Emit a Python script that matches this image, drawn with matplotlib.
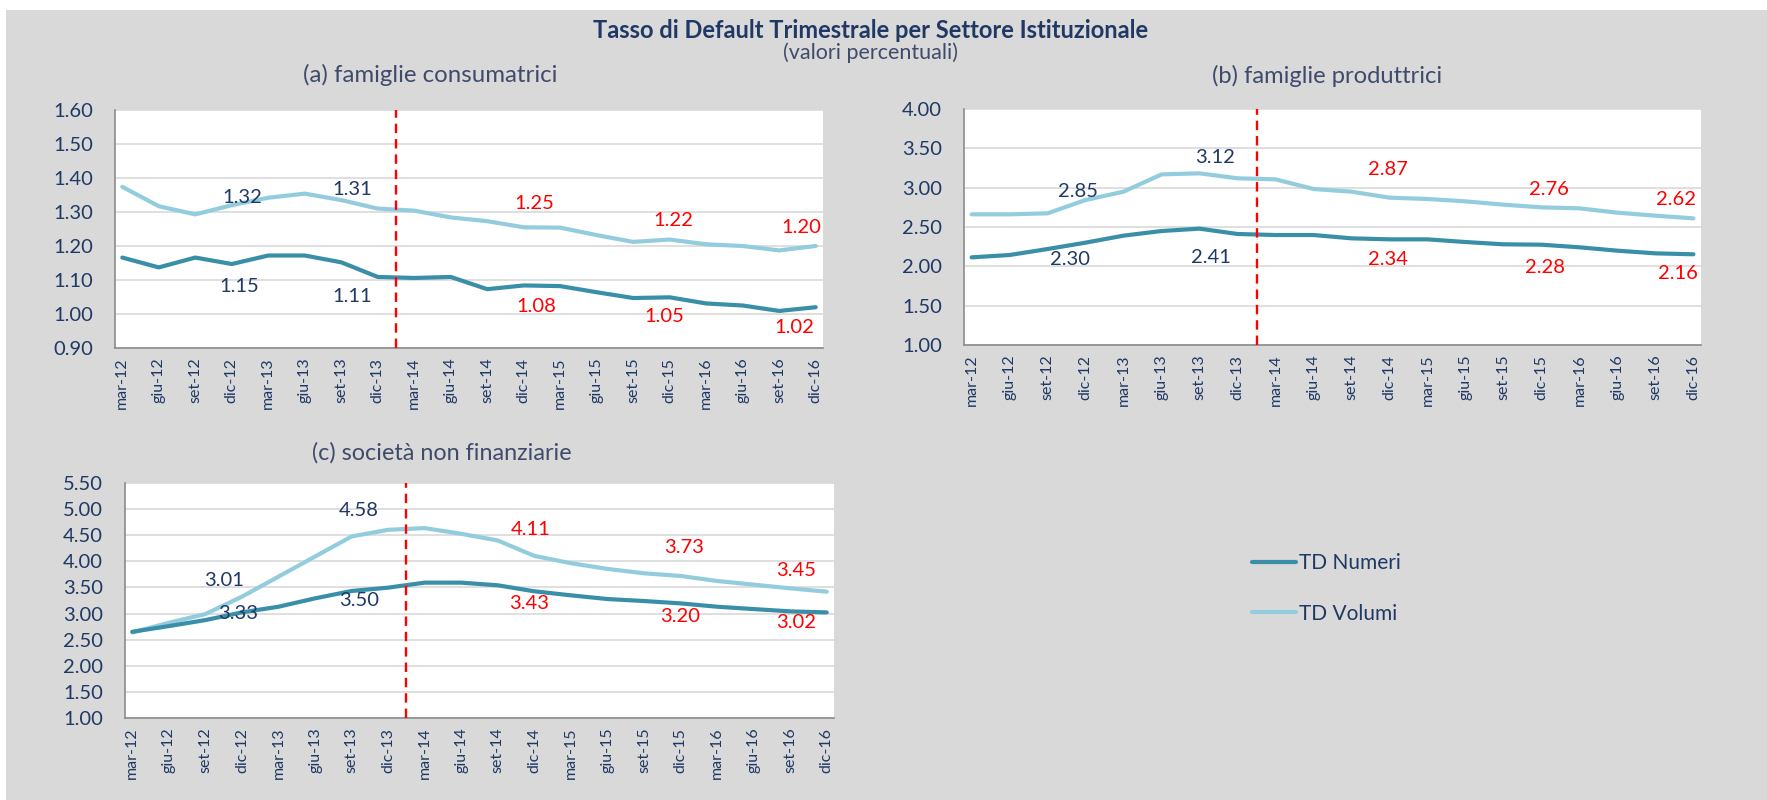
import matplotlib
matplotlib.use("Agg")
import matplotlib.pyplot as plt
from matplotlib.patches import Rectangle

plt.rcParams['font.family'] = ['Lato', 'DejaVu Sans']

# dati
quarters = ["mar-12", "giu-12", "set-12", "dic-12", "mar-13", "giu-13", "set-13", "dic-13",
            "mar-14", "giu-14", "set-14", "dic-14", "mar-15", "giu-15", "set-15", "dic-15",
            "mar-16", "giu-16", "set-16", "dic-16"]

a_numeri = [1.166, 1.137, 1.166, 1.147, 1.172, 1.172, 1.152, 1.109, 1.106, 1.109,
            1.073, 1.084, 1.082, 1.064, 1.047, 1.049, 1.031, 1.025, 1.009, 1.020]
a_volumi = [1.374, 1.317, 1.293, 1.320, 1.342, 1.354, 1.335, 1.310, 1.304, 1.284,
            1.273, 1.255, 1.254, 1.232, 1.212, 1.219, 1.205, 1.200, 1.187, 1.200]

b_numeri = [2.114, 2.144, 2.220, 2.301, 2.390, 2.449, 2.479, 2.411, 2.398, 2.398,
            2.356, 2.343, 2.343, 2.309, 2.280, 2.275, 2.242, 2.199, 2.165, 2.153]
b_volumi = [2.661, 2.661, 2.674, 2.843, 2.949, 3.169, 3.182, 3.119, 3.106, 2.983,
            2.949, 2.873, 2.856, 2.826, 2.784, 2.750, 2.737, 2.682, 2.644, 2.610]

c_numeri = [2.651, 2.760, 2.875, 3.022, 3.131, 3.291, 3.432, 3.496, 3.592, 3.592,
            3.541, 3.426, 3.349, 3.278, 3.240, 3.195, 3.131, 3.086, 3.042, 3.022]
c_volumi = [2.638, 2.824, 2.990, 3.323, 3.707, 4.092, 4.476, 4.604, 4.636, 4.527,
            4.399, 4.104, 3.964, 3.855, 3.771, 3.720, 3.624, 3.554, 3.483, 3.419]

# etichette (medie annuali)
a_lbl_vol = ["1.32", "1.31", "1.25", "1.22", "1.20"]
a_lbl_num = ["1.15", "1.11", "1.08", "1.05", "1.02"]
b_lbl_vol = ["2.85", "3.12", "2.87", "2.76", "2.62"]
b_lbl_num = ["2.30", "2.41", "2.34", "2.28", "2.16"]
c_lbl_vol = ["3.01", "4.58", "4.11", "3.73", "3.45"]
c_lbl_num = ["3.33", "3.50", "3.43", "3.20", "3.02"]

# layout
W, H = 1767, 800
BG = "#d9d9d9"
NAVY = "#1f3864"
SUB = "#404b6c"
C_NUM = "#3a8fa8"
C_VOL = "#93cddd"


def make_panel(fig, box, numeri, volumi, yticks, lbl_vol, lbl_num, pos_vol, pos_num):
    l, t, r, b = box
    ax = fig.add_axes([l / W, 1 - b / H, (r - l) / W, (b - t) / H])
    ax.set_facecolor("white")
    x = range(len(quarters))
    ax.plot(x, volumi, color=C_VOL, lw=3, solid_capstyle="round", label="TD Volumi", zorder=3)
    ax.plot(x, numeri, color=C_NUM, lw=3, solid_capstyle="round", label="TD Numeri", zorder=4)
    ax.axvline(7.5, color="red", lw=1.7, ls=(0, (4, 2.5)), zorder=5)
    ax.set_xlim(-0.2, len(quarters) - 0.8)
    ax.set_ylim(yticks[0], yticks[-1])
    ax.set_yticks(yticks)
    ax.set_yticklabels(["%.2f" % v for v in yticks])
    ax.set_xticks(list(x))
    ax.set_xticklabels(quarters, rotation=90)
    ax.tick_params(length=0, labelcolor=NAVY)
    ax.tick_params(axis="y", pad=16, labelsize=14.5)
    ax.tick_params(axis="x", pad=7, labelsize=11.5)
    ax.grid(axis="y", color="#d9d9d9", lw=1.2)
    ax.set_axisbelow(True)
    for s in ["top", "right"]:
        ax.spines[s].set_visible(False)
    for s in ["left", "bottom"]:
        ax.spines[s].set_color("#8c8c8c")
        ax.spines[s].set_linewidth(1.2)
    for i, (txt, (px, py)) in enumerate(zip(lbl_vol, pos_vol)):
        ax.text(px, py, txt, color=NAVY if i < 2 else "red", fontsize=14.5, ha="center", va="center", zorder=6)
    for i, (txt, (px, py)) in enumerate(zip(lbl_num, pos_num)):
        ax.text(px, py, txt, color=NAVY if i < 2 else "red", fontsize=14.5, ha="center", va="center", zorder=6)
    return ax


def main():
    fig = plt.figure(figsize=(W / 100, H / 100), dpi=100)
    fig.patch.set_facecolor("white")
    fig.patches.append(Rectangle((6 / W, 0), 1 - 6 / W, 1 - 10 / H, transform=fig.transFigure,
                                 facecolor=BG, edgecolor="none", zorder=-10))

    fig.text(871 / W, 1 - 30 / H, "Tasso di Default Trimestrale per Settore Istituzionale",
             ha="center", va="center", fontsize=17, fontweight="bold", color=NAVY)
    fig.text(870 / W, 1 - 53 / H, "(valori percentuali)", ha="center", va="center",
             fontsize=15.5, color=SUB)

    fig.text(430 / W, 1 - 75 / H, "(a) famiglie consumatrici", ha="center", va="center",
             fontsize=17.3, color=SUB)
    fig.text(1327 / W, 1 - 76 / H, "(b) famiglie produttrici", ha="center", va="center",
             fontsize=17.1, color=SUB)
    fig.text(442 / W, 1 - 453 / H, "(c) società non finanziarie", ha="center", va="center",
             fontsize=16.8, color=SUB)

    make_panel(fig, (115, 110, 823, 348), a_numeri, a_volumi,
               [0.90, 1.00, 1.10, 1.20, 1.30, 1.40, 1.50, 1.60],
               a_lbl_vol, a_lbl_num,
               [(3.3, 1.342), (6.3, 1.366), (11.3, 1.325), (15.1, 1.276), (18.6, 1.254)],
               [(3.2, 1.080), (6.3, 1.052), (11.35, 1.021), (14.85, 0.992), (18.4, 0.959)])

    make_panel(fig, (964, 109, 1701, 345), b_numeri, b_volumi,
               [1.00, 1.50, 2.00, 2.50, 3.00, 3.50, 4.00],
               b_lbl_vol, b_lbl_num,
               [(2.8, 2.949), (6.4, 3.381), (10.95, 3.225), (15.2, 2.979), (18.55, 2.852)],
               [(2.6, 2.081), (6.3, 2.110), (10.95, 2.089), (15.1, 1.987), (18.6, 1.911)])

    ax_c = make_panel(fig, (125, 483, 834, 718), c_numeri, c_volumi,
                      [1.00, 1.50, 2.00, 2.50, 3.00, 3.50, 4.00, 4.50, 5.00, 5.50],
                      c_lbl_vol, c_lbl_num,
                      [(2.5, 3.631), (6.2, 4.975), (10.9, 4.604), (15.1, 4.264), (18.15, 3.823)],
                      [(2.9, 3.004), (6.2, 3.247), (10.85, 3.183), (15.0, 2.952), (18.15, 2.830)])

    # legenda
    h, lab = ax_c.get_legend_handles_labels()
    leg = fig.legend(h[::-1], lab[::-1], loc="center left",
                     bbox_to_anchor=(1252 / W, 1 - 588.5 / H), frameon=False,
                     borderaxespad=0, borderpad=0,
                     handlelength=2.1, handletextpad=0.15, labelspacing=1.45, fontsize=15)
    for t in leg.get_texts():
        t.set_color(NAVY)

    fig.savefig("out.png", dpi=100, facecolor=fig.get_facecolor())


if __name__ == "__main__":
    main()
